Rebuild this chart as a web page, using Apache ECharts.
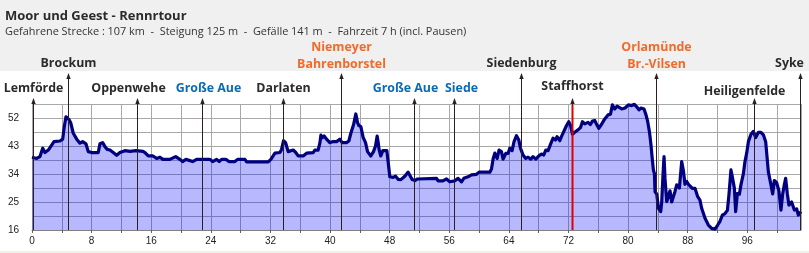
<!DOCTYPE html>
<html><head><meta charset="utf-8">
<script src="https://cdn.jsdelivr.net/npm/echarts@6/dist/echarts.min.js"></script>
<style>html,body{margin:0;padding:0;background:#fff}#c{width:809px;height:253px}</style>
</head><body><div id="c"></div>
<script>
// ---- data ----
const titleText = 'Moor und Geest - Rennrtour';
const subtitleText = 'Gefahrene Strecke : 107 km  -  Steigung 125 m  -  Gefälle 141 m  -  Fahrzeit 7 h (incl. Pausen)';

const kmPoints = [0.0,0.63,1.07,1.44,1.74,2.19,2.64,2.95,3.76,4.12,4.33,4.56,4.79,5.0,5.19,5.37,5.54,6.0,6.44,6.8,7.24,7.55,8.0,8.89,9.12,9.48,9.79,10.1,10.46,10.9,11.36,11.8,12.47,13.15,13.95,14.89,15.16,15.6,16.23,16.73,17.17,17.57,18.51,19.28,19.85,20.21,20.66,21.56,22.09,23.88,24.24,24.78,25.12,25.45,26.02,26.43,27.23,27.59,28.57,28.8,31.7,32.06,32.6,33.27,33.49,33.76,34.03,34.38,35.05,35.37,35.72,36.39,36.85,37.73,37.96,38.4,38.63,38.77,38.94,39.21,39.53,39.97,40.42,40.87,41.31,41.62,42.21,42.52,42.79,43.15,43.46,43.69,43.86,44.13,44.44,44.76,45.03,45.47,45.83,46.1,46.32,46.45,46.59,46.81,47.08,47.62,47.79,48.02,48.46,48.79,49.13,49.5,50.03,50.48,50.74,51.01,51.38,51.74,54.29,54.5,55.13,55.63,56.07,56.74,57.18,57.64,57.95,58.52,58.98,59.65,60.0,61.44,61.66,61.88,62.11,62.42,62.68,63.0,63.22,63.58,63.89,64.12,64.43,64.69,65.02,65.33,65.55,65.9,66.26,66.57,66.94,67.24,67.61,68.05,68.37,68.68,68.95,69.26,69.58,69.93,70.25,70.46,70.83,71.05,71.36,71.72,72.03,72.26,72.53,72.84,73.28,73.6,73.87,74.18,74.62,74.94,75.21,75.52,75.75,76.06,76.42,76.86,77.3,77.63,77.89,78.2,78.51,78.7,79.14,79.58,80.04,80.48,80.84,81.15,81.46,81.73,82.13,82.4,82.63,82.86,83.07,83.21,83.39,83.53,83.61,83.84,84.06,84.37,84.51,84.68,84.82,84.95,85.18,85.41,85.62,85.85,86.08,86.29,86.52,86.88,87.19,87.42,87.63,87.86,88.09,88.3,88.62,88.97,89.34,89.64,89.87,90.32,90.77,91.21,91.66,92.02,92.33,92.65,93.0,93.32,93.53,93.8,93.99,94.26,94.43,94.66,94.93,95.14,95.47,95.68,95.91,96.14,96.49,96.81,97.12,97.48,97.83,98.15,98.46,98.82,99.17,99.4,99.62,99.93,100.24,100.51,100.74,100.96,101.14,101.37,101.58,101.94,102.31,102.62,102.84,103.06,103.19];
const elevation = [39.4,39.0,39.6,42.3,40.9,41.7,43.3,44.4,44.6,45.2,49.2,52.4,52.6,51.4,50.5,50.3,47.1,45.2,43.9,44.4,43.7,41.2,40.9,40.9,43.7,44.1,42.8,41.9,41.7,40.9,40.0,40.9,41.5,41.3,41.5,41.3,40.9,39.8,39.8,39.0,39.4,38.7,38.7,39.6,38.7,38.0,38.7,38.0,38.7,38.7,38.0,38.7,38.0,38.7,38.7,38.0,38.0,38.7,38.7,37.9,37.9,38.7,40.7,40.9,41.9,44.7,44.1,41.2,41.7,41.0,39.8,39.8,40.7,40.9,41.7,41.7,43.9,46.5,45.6,46.2,45.2,44.1,44.4,44.4,45.2,44.1,44.1,44.6,47.1,49.8,53.3,50.5,49.6,49.2,45.8,44.1,41.2,39.8,41.2,43.0,46.2,44.3,41.7,39.8,41.5,41.5,38.0,33.1,32.9,33.3,32.3,32.2,33.3,34.6,34.4,32.2,31.9,32.4,32.6,31.8,31.8,32.4,31.5,31.8,32.6,31.5,32.6,33.1,33.7,33.9,34.6,34.6,35.6,38.8,40.7,39.0,41.7,41.2,38.8,40.6,40.6,42.3,41.5,44.4,46.3,44.9,42.3,40.1,39.0,39.4,38.8,39.6,38.8,39.9,40.4,40.1,41.7,41.5,43.5,45.5,44.9,46.0,44.7,46.0,47.6,49.5,50.8,49.7,46.8,47.4,48.2,48.9,50.8,50.1,50.6,49.9,51.0,51.2,50.1,48.7,49.9,51.7,53.0,53.2,56.2,54.9,55.8,55.2,54.9,55.2,56.2,56.0,56.4,55.6,54.6,55.2,54.9,53.0,50.8,47.6,43.3,39.6,35.3,34.1,28.3,27.6,23.0,21.9,25.0,33.7,39.6,32.5,25.1,26.9,28.6,25.0,25.5,28.4,30.5,29.5,38.0,35.0,30.7,31.6,30.7,31.3,29.4,29.4,26.7,25.6,23.0,19.8,17.6,16.5,16.3,17.6,18.8,20.8,21.3,22.3,27.3,35.3,33.0,29.4,21.9,27.7,27.5,30.5,34.1,38.0,40.7,44.4,46.8,47.7,45.7,47.4,47.4,46.6,44.4,34.7,30.5,27.6,31.9,31.2,28.6,22.4,27.6,30.5,32.6,27.6,24.0,25.0,22.4,22.8,20.8,20.3,21.9];

const xTickLabels = [0,8,16,24,32,40,48,56,64,72,80,88,96];
const yTickLabels = [16,25,34,43,52];
const yBase = 16;      // bottom of the elevation axis
const yTop = 56.5;     // top of the elevation axis
const xEnd = 103.2;    // end of the route on the axis

const placeNames = ['Lemförde','Brockum','Oppenwehe','Große Aue','Darlaten','Niemeyer\nBahrenborstel','Große Aue','Siede','Siedenburg','Staffhorst','Orlamünde\nBr.-Vilsen','Heiligenfelde','Syke'];
const placeKm    = [0.13,4.87,14.12,22.84,33.7,41.45,51.28,56.65,65.6,72.43,83.74,96.89,103.0];
const placeRow   = [2,1,2,2,2,1,2,2,1,2,1,2,1];
const placeKind  = ['town','town','town','water','town','stop','water','water','town','current','stop','town','town'];

// ---- layout / style (not data) ----
const labelNudgeX = [0,0,-9,6,0,0,-9,7,0,0,0,-10,-11];
const labelNudgeY = [0,0,0,0,0,0,0,0,0,-2,0,3,0];
const kindColor = {town:'#2b2b2b', water:'#0a6ab4', stop:'#f26a2a', current:'#2b2b2b'};
const labelFont = '"Open Sans", "Liberation Sans", sans-serif';

const chart = echarts.init(document.getElementById('c'), null, {renderer:'canvas'});

const seriesData = kmPoints.map((k, i) => [k, elevation[i] - yBase]);

chart.setOption({
  animation: false,
  backgroundColor: '#ffffff',
  grid: {left: 32, right: 809 - 801, top: 104, bottom: 23, containLabel: false},
  xAxis: {
    type: 'value', min: 0, max: xEnd, interval: 4,
    axisLine: {show: true, lineStyle: {color: '#808080', width: 1}},
    axisTick: {show: true, length: 3, lineStyle: {color: '#606060'}},
    axisLabel: {
      color: '#222', fontSize: 10, fontFamily: '"Liberation Sans", sans-serif', margin: 6,
      showMaxLabel: false,
      formatter: v => xTickLabels.indexOf(Math.round(v * 100) / 100) >= 0 ? String(v) : ''
    },
    splitLine: {show: true, lineStyle: {color: '#a8a8a8', width: 1}}
  },
  yAxis: {
    type: 'value', min: 0, max: yTop - yBase, interval: 4.5,
    axisLine: {show: true, lineStyle: {color: '#a8a8a8', width: 1}},
    axisTick: {show: false},
    axisLabel: {
      color: '#222', fontSize: 10, fontFamily: '"Liberation Sans", sans-serif', margin: 13,
      formatter: v => { const e = Math.round((v + yBase) * 10) / 10; return yTickLabels.indexOf(e) >= 0 ? String(e) : ''; }
    },
    splitLine: {show: true, lineStyle: {color: '#a8a8a8', width: 1}}
  },
  series: [{
    type: 'line', data: seriesData, showSymbol: false, smooth: false,
    lineStyle: {color: '#000080', width: 3.2, join: 'round'},
    areaStyle: {color: 'rgba(0,0,255,0.4)', origin: 'start'},
    z: 2
  }]
});

function buildGraphics() {
  const els = [];
  els.push({type:'rect', shape:{x:0, y:0, width:809, height:71}, style:{fill:'#f0f0f0'}, z:-10, silent:true});
  els.push({type:'rect', shape:{x:0, y:251, width:809, height:2}, style:{fill:'#f0f0e6'}, z:-10, silent:true});
  els.push({type:'text', x:5, y:16, style:{text:titleText, fill:'#2b2b2b', font:'bold 13px ' + labelFont, verticalAlign:'middle'}, z:10});
  els.push({type:'text', x:5, y:32, style:{text:subtitleText, fill:'#333', font:'10.9px ' + labelFont, verticalAlign:'middle'}, z:10});

  const bottomY = chart.convertToPixel({yAxisIndex:0}, 0);
  const topGridY = chart.convertToPixel({yAxisIndex:0}, yTop - yBase);
  placeKm.forEach((km, i) => {
    const x = Math.round(chart.convertToPixel({xAxisIndex:0}, km)) + 0.5;
    const tipY = placeRow[i] === 1 ? 73 : 98;
    els.push({type:'line', shape:{x1:x, y1:bottomY, x2:x, y2:tipY + 4}, style:{stroke:'#2a2020', lineWidth:1}, z:100, silent:true});
    els.push({type:'polygon', shape:{points:[[x, tipY], [x - 2.2, tipY + 6], [x + 2.2, tipY + 6]]}, style:{fill:'#2a2020'}, z:100, silent:true});
    if (placeKind[i] === 'current') {
      els.push({type:'line', shape:{x1:x, y1:bottomY, x2:x, y2:topGridY + 1}, style:{stroke:'#e00000', lineWidth:2}, z:101, silent:true});
    }
    const two = placeNames[i].indexOf('\n') >= 0;
    const cy = placeRow[i] === 1 ? (two ? 55.5 : 63) : 88;
    els.push({type:'text', x: x + labelNudgeX[i], y: cy + labelNudgeY[i],
      style:{text:placeNames[i], fill:kindColor[placeKind[i]], font:'bold 12.4px ' + labelFont,
             align:'center', verticalAlign:'middle', lineHeight:17}, z:110, silent:true});
  });
  return els;
}
chart.setOption({graphic: {elements: buildGraphics()}});
</script></body></html>
